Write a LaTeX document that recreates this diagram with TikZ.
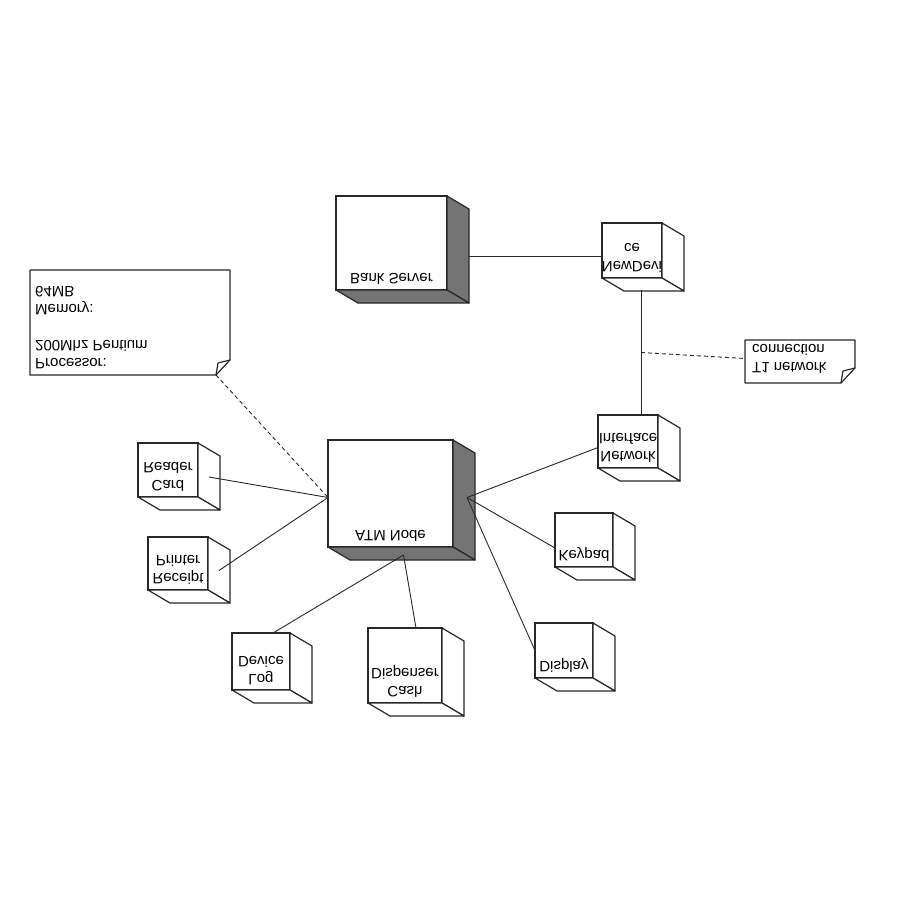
\documentclass[tikz,border=0pt]{standalone}
\usepackage{fontspec}
\setmainfont{Liberation Sans}
\usetikzlibrary{calc}

\definecolor{facegray}{RGB}{116,116,116}
\definecolor{inkgray}{RGB}{40,40,40}

\tikzset{
  front/.style={draw=inkgray, line width=1.4pt, fill=white, rectangle, inner sep=0pt, outer sep=0pt},
  face/.style={draw=inkgray, line width=1.2pt, line join=round},
  lbl/.style={font=\fontsize{15}{18}\selectfont, align=center, yscale=-1, inner xsep=1pt, inner ysep=5pt},
  notetext/.style={font=\fontsize{15}{18}\selectfont, align=left, yscale=-1, inner sep=0pt, anchor=north west},
  link/.style={draw=inkgray, line width=0.9pt},
  dotlink/.style={draw=inkgray, line width=0.9pt, dash pattern=on 4pt off 3pt},
}

% cube: name, x, y, width, height, side colour, label
\newcommand{\devcube}[7]{%
  \node[front, minimum width=#4pt, minimum height=#5pt, anchor=north west] (#1) at (#2,#3) {};
  \draw[face, fill=#6] (#1.north east) -- ++(22,13) -- ++(0,#5) -- (#1.south east) -- cycle;
  \draw[face, fill=#6] (#1.south west) -- ++(22,13) -- ++(#4,0) -- (#1.south east) -- cycle;
  \node[lbl, anchor=north] (#1-name) at (#1.south) {#7};
}

% note: name, x, y, width, height
\newcommand{\memo}[5]{%
  \node[inner sep=0pt, outer sep=0pt, minimum width=#4pt, minimum height=#5pt, anchor=north west] (#1) at (#2,#3) {};
  \draw[face, fill=white] (#1.north west) -- (#1.north east) -- ++(0,#5-15) -- ++(-14,15) -- (#1.south west) -- cycle;
  \draw[face] ($(#1.south east)+(-14,0)$) -- ++(2,-12) -- ++(12,-3);
}

\begin{document}
\begin{tikzpicture}[x=1pt, y=-1pt]
        %FRAME
        \useasboundingbox[fill=white] (0,0) rectangle (900,899);

        %NOTES
        \memo{proc}{30}{270}{200}{105}
        \node[notetext] (proc-text) at (35,369) {Processor:\\200Mhz Pentium\\[18pt]Memory:\\64MB};
        \memo{t1}{745}{340}{110}{43}
        \node[notetext] (t1-text) at (752,374) {T1 network\\connection};

        %NODES
        \devcube{bank}{336}{196}{111}{94}{facegray}{Bank Server}
        \devcube{newdev}{602}{223}{60}{55}{white}{NewDevi\\ce}
        \devcube{atm}{328}{440}{125}{107}{facegray}{ATM Node}
        \devcube{card}{138}{443}{60}{54}{white}{Card\\Reader}
        \devcube{printer}{148}{537}{60}{53}{white}{Receipt\\Printer}
        \devcube{netif}{598}{415}{60}{53}{white}{Network\\Interface}
        \devcube{keypad}{555}{513}{58}{54}{white}{Keypad}
        \devcube{display}{535}{623}{58}{55}{white}{Display}
        \devcube{log}{232}{633}{58}{57}{white}{Log\\Device}
        \devcube{cash}{368}{628}{74}{75}{white}{Cash\\Dispenser}

        %LINKS
        \coordinate (atmL) at ($(atm.west)+(0,4)$);
        \coordinate (atmR) at ($(atm.east)+(14,4)$);
        \coordinate (atmB) at ($(atm.south)+(13,8)$);
        \coordinate (bankR) at ($(bank.east)+(22,13)$);
        \coordinate (ndB) at ($(newdev.south)+(9,12)$);
        \coordinate (tap) at ($(ndB)!0.5!(ndB |- netif.north)$);

        \draw[link] (bankR) -- (bankR -| newdev.west);
        \draw[link] (ndB) -- (ndB |- netif.north);
        \draw[link] ($(card.east)+(11,7)$) -- (atmL);
        \draw[link] ($(printer.east)+(11,7)$) -- (atmL);
        \draw[link] ($(log.north)+(12,0)$) -- (atmB);
        \draw[link] ($(cash.north)+(11,0)$) -- (atmB);
        \draw[link] (display.west) -- (atmR);
        \draw[link] ($(keypad.west)+(0,8)$) -- (atmR);
        \draw[link] ($(netif.west)+(0,6)$) -- (atmR);

        %DASHED
        \draw[dotlink] ($(proc.south east)+(-14,0)$) -- (atmL);
        \draw[dotlink] (tap) -- ($(t1.west)+(0,-3)$);
\end{tikzpicture}
\end{document}
